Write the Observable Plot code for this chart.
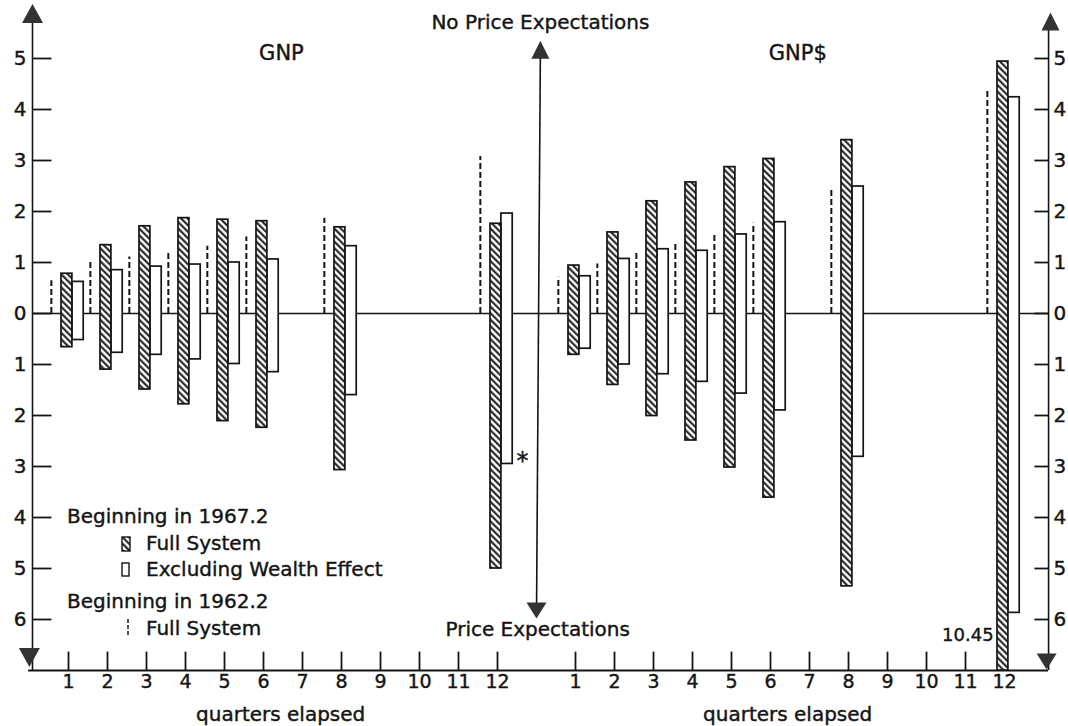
<!DOCTYPE html>
<html>
<head>
<meta charset="utf-8">
<script src="https://cdn.jsdelivr.net/npm/d3@7"></script>
<script src="https://cdn.jsdelivr.net/npm/@observablehq/plot@0.6"></script>
<style>
  body { margin: 0; background: #fff; }
  #chart { position: relative; width: 1068px; height: 726px; }
  #chart text { stroke: #141414; stroke-width: 0.4px; }
</style>
</head>
<body>
<div id="chart"></div>
<script>
// ---------- DATA ----------
const quarters = [1, 2, 3, 4, 5, 6, 8, 12];              // quarters with bars
const axisQuarters = [1, 2, 3, 4, 5, 6, 7, 8, 9, 10, 11, 12]; // tick labels
const yTicks = [-6, -5, -4, -3, -2, -1, 0, 1, 2, 3, 4, 5];

// GNP panel
const gnpFullUp    = [0.78, 1.34, 1.71, 1.87, 1.84, 1.81, 1.69, 1.76];
const gnpFullDown  = [-0.66, -1.10, -1.49, -1.78, -2.11, -2.24, -3.07, -5.00];
const gnpExclUp    = [0.62, 0.85, 0.92, 0.96, 1.00, 1.06, 1.32, 1.96];
const gnpExclDown  = [-0.52, -0.77, -0.81, -0.90, -0.99, -1.15, -1.60, -2.95];
const gnp1962Full  = [0.64, 1.00, 1.11, 1.23, 1.32, 1.50, 1.87, 3.08];

// GNP$ panel
const gnpdFullUp   = [0.94, 1.59, 2.20, 2.57, 2.87, 3.03, 3.40, 4.94];
const gnpdFullDown = [-0.81, -1.40, -2.01, -2.49, -3.02, -3.61, -5.35, -10.45];
const gnpdExclUp   = [0.73, 1.07, 1.26, 1.23, 1.55, 1.79, 2.49, 4.24];
const gnpdExclDown = [-0.69, -1.00, -1.19, -1.34, -1.57, -1.90, -2.81, -5.87];
const gnpd1962Full = [0.71, 0.97, 1.20, 1.39, 1.59, 1.77, 2.43, 4.40];

const panelTitles = ["GNP", "GNP$"];
const xTitle = "quarters elapsed";
const upperLabel = "No Price Expectations";
const lowerLabel = "Price Expectations";
const clippedLabel = "10.45";
const footnoteMark = "*";

// ---------- LAYOUT ----------
const Y_MIN = -7, Y_MAX = 6;
const SHIFT = 13;                 // position offset of the GNP$ panel
const X_LEFT = 0.077, X_RIGHT = 26.13;
const FONT = "'DejaVu Sans', Lato, sans-serif";
const INK = "#141414";

const panels = [
  {title: panelTitles[0], shift: 0, fu: gnpFullUp, fd: gnpFullDown, eu: gnpExclUp, ed: gnpExclDown, old: gnp1962Full},
  {title: panelTitles[1], shift: SHIFT, fu: gnpdFullUp, fd: gnpdFullDown, eu: gnpdExclUp, ed: gnpdExclDown, old: gnpd1962Full}
];
const rows = panels.flatMap(p => quarters.map((q, i) => ({
  panel: p.title, pos: q + p.shift,
  fullUp: p.fu[i], fullDown: p.fd[i], exclUp: p.eu[i], exclDown: p.ed[i], old: p.old[i]
})));
const tickPos = panels.flatMap(p => axisQuarters.map(q => q + p.shift));

const triUp = {draw(c) { c.moveTo(0, 0); c.lineTo(-10.5, 19); c.lineTo(10.5, 19); c.closePath(); }};
const triDown = {draw(c) { c.moveTo(0, 0); c.lineTo(-10.5, -19); c.lineTo(10.5, -19); c.closePath(); }};
const triUpS = {draw(c) { c.moveTo(0, 0); c.lineTo(-9, 18); c.lineTo(9, 18); c.closePath(); }};
const triDownS = {draw(c) { c.moveTo(0, 0); c.lineTo(-10, -16); c.lineTo(10, -16); c.closePath(); }};

const svg = Plot.plot({
  width: 1068,
  height: 726,
  marginTop: 7,
  marginBottom: 56,
  marginLeft: 32,
  marginRight: 20,
  style: {fontFamily: FONT, fontSize: "19px", color: INK, background: "#fff"},
  x: {domain: [0, 26], range: [29, 1043], axis: null},
  y: {domain: [Y_MIN, Y_MAX], range: [670, 7], axis: null},
  marks: [
    // axes frame lines
    Plot.ruleY([0], {x1: X_LEFT, x2: X_RIGHT, stroke: INK, strokeWidth: 1.6}),
    Plot.ruleY([Y_MIN], {x1: X_LEFT - 0.1, x2: X_RIGHT, stroke: INK, strokeWidth: 1.8}),
    Plot.ruleX([X_LEFT], {y1: Y_MIN, y2: 5.75, stroke: INK, strokeWidth: 1.6}),
    Plot.ruleX([X_RIGHT], {y1: Y_MIN, y2: 5.6, stroke: INK, strokeWidth: 1.6}),
    // y ticks
    Plot.ruleY(yTicks, {x1: X_LEFT, x2: X_LEFT + 0.5, stroke: INK, strokeWidth: 1.8}),
    Plot.ruleY(yTicks, {x1: X_RIGHT - 0.35, x2: X_RIGHT, stroke: INK, strokeWidth: 1.8}),
    // x ticks
    Plot.ruleX(tickPos, {y1: Y_MIN, y2: Y_MIN + 0.36, stroke: INK, strokeWidth: 1.8}),
    // axis labels
    Plot.axisY({anchor: "left", ticks: yTicks, tickFormat: d => Math.abs(d), tickSize: 0, tickPadding: 6, label: null, fontSize: 20}),
    Plot.axisY({anchor: "right", ticks: yTicks, tickFormat: d => Math.abs(d), tickSize: 0, tickPadding: 5, label: null, fontSize: 20}),
    Plot.axisX({ticks: tickPos, tickFormat: d => d > SHIFT ? d - SHIFT : d, tickSize: 0, tickPadding: 4, label: null, fontSize: 19}),
    // arrows of the axes
    Plot.dot([{x: X_LEFT, y: 6.07}], {x: "x", y: "y", symbol: triUp, fill: "#333", stroke: "none"}),
    Plot.dot([{x: X_LEFT - 0.08, y: -6.93}], {x: "x", y: "y", symbol: triDown, fill: "#333", stroke: "none"}),
    Plot.dot([{x: X_RIGHT + 0.05, y: 5.9}], {x: "x", y: "y", symbol: triUpS, fill: "#333", stroke: "none"}),
    Plot.dot([{x: X_RIGHT - 0.05, y: -6.98}], {x: "x", y: "y", symbol: triDownS, fill: "#333", stroke: "none"}),
    // central expectations arrow
    Plot.link([{x1: 13.1, y1: 5.2, x2: 13.0, y2: -5.9}], {x1: "x1", y1: "y1", x2: "x2", y2: "y2", stroke: INK, strokeWidth: 1.6}),
    Plot.dot([{x: 13.1, y: 5.35}], {x: "x", y: "y", symbol: triUpS, fill: "#333", stroke: "none"}),
    Plot.dot([{x: 13.0, y: -5.98}], {x: "x", y: "y", symbol: triDownS, fill: "#333", stroke: "none"}),
    // 1962.2 full system (dashed)
    Plot.ruleX(rows, {x: d => d.pos - 0.44, y1: 0, y2: "old", stroke: INK, strokeWidth: 2, strokeDasharray: "6,3"}),
    // excluding wealth effect (open)
    Plot.rect(rows, {x1: d => d.pos + 0.10, x2: d => d.pos + 0.39, y1: "exclDown", y2: "exclUp", fill: "#fff", stroke: INK, strokeWidth: 1.7}),
    // full system (hatched)
    Plot.rect(rows, {x1: d => d.pos - 0.18, x2: d => d.pos + 0.10, y1: d => Math.max(d.fullDown, Y_MIN), y2: "fullUp", fill: "url(#hatch)", stroke: INK, strokeWidth: 1.7}),
    // annotations
    Plot.text(panels.map((p, i) => ({t: p.title, x: [6.46, 19.7][i]})), {x: "x", y: 5.1, text: "t", fontSize: 21, fill: INK}),
    Plot.text([upperLabel], {x: 13.1, y: 5.7, text: d => d, fontSize: 20, fill: INK}),
    Plot.text([lowerLabel], {x: 13.03, y: -6.2, text: d => d, fontSize: 20, fill: INK}),
    Plot.text([footnoteMark], {x: 12.64, y: -2.9, text: d => d, fontSize: 24, fill: INK}),
    Plot.text([clippedLabel], {x: 24.72, y: -6.3, text: d => d, fontSize: 18, textAnchor: "end", fill: INK}),
    Plot.text([6.44, 19.44], {x: d => d, y: -7.86, text: () => xTitle, fontSize: 20, fill: INK})
  ]
});

// hatch pattern
const ns = "http://www.w3.org/2000/svg";
const defs = document.createElementNS(ns, "defs");
const pat = document.createElementNS(ns, "pattern");
pat.setAttribute("id", "hatch");
pat.setAttribute("patternUnits", "userSpaceOnUse");
pat.setAttribute("width", "4.6");
pat.setAttribute("height", "4.6");
pat.setAttribute("patternTransform", "rotate(-45)");
const bg = document.createElementNS(ns, "rect");
bg.setAttribute("width", "4.6"); bg.setAttribute("height", "4.6"); bg.setAttribute("fill", "#fff");
const ln = document.createElementNS(ns, "line");
ln.setAttribute("x1", "1.2"); ln.setAttribute("y1", "-1"); ln.setAttribute("x2", "1.2"); ln.setAttribute("y2", "6");
ln.setAttribute("stroke", INK); ln.setAttribute("stroke-width", "2");
pat.appendChild(bg); pat.appendChild(ln); defs.appendChild(pat);
svg.insertBefore(defs, svg.firstChild);

// legend (inside the left panel)
const lg = d3.select(svg).append("g")
  .attr("font-family", FONT).attr("font-size", 20).attr("fill", INK).attr("text-anchor", "start");
const legendLines = [
  {text: "Beginning in 1967.2", x: 67, y: 523},
  {text: "Full System", x: 146, y: 550, swatch: "hatch"},
  {text: "Excluding Wealth Effect", x: 146, y: 576, swatch: "open"},
  {text: "Beginning in 1962.2", x: 67, y: 608},
  {text: "Full System", x: 146, y: 635, swatch: "dash"}
];
for (const l of legendLines) {
  lg.append("text").attr("x", l.x).attr("y", l.y).attr("text-anchor", "start").text(l.text);
  if (l.swatch === "hatch") lg.append("rect").attr("x", 122).attr("y", l.y - 13).attr("width", 8).attr("height", 14).attr("fill", "url(#hatch)").attr("stroke", INK).attr("stroke-width", 1.4);
  if (l.swatch === "open") lg.append("rect").attr("x", 122).attr("y", l.y - 13).attr("width", 7).attr("height", 13).attr("fill", "#fff").attr("stroke", INK).attr("stroke-width", 1.4);
  if (l.swatch === "dash") lg.append("line").attr("x1", 128).attr("x2", 128).attr("y1", l.y - 16).attr("y2", l.y).attr("stroke", INK).attr("stroke-width", 1.5).attr("stroke-dasharray", "4,2");
}

document.getElementById("chart").appendChild(svg);
</script>
</body>
</html>
